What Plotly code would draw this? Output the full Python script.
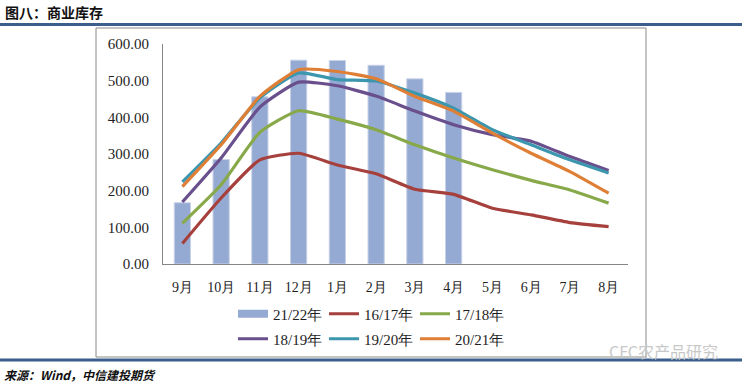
import plotly.graph_objects as go

months = ["9月", "10月", "11月", "12月", "1月", "2月", "3月", "4月", "5月", "6月", "7月", "8月"]

bar_name = "21/22年"
bar_values = [167, 285, 456, 556, 555, 542, 505, 468]

line_names = ["16/17年", "17/18年", "18/19年", "19/20年", "20/21年"]
s1617 = [56, 180, 284, 302, 270, 246, 204, 190, 152, 134, 113, 102]
s1718 = [111, 216, 359, 418, 395, 366, 325, 289, 257, 228, 202, 166]
s1819 = [169, 289, 428, 496, 486, 458, 417, 380, 353, 335, 293, 255]
s1920 = [224, 330, 453, 521, 503, 499, 466, 425, 366, 325, 284, 248]
s2021 = [211, 325, 457, 530, 525, 505, 457, 417, 357, 302, 252, 193]
line_values = [s1617, s1718, s1819, s1920, s2021]
line_colors = ["#A6403C", "#88A94A", "#6A4F8D", "#3B96AE", "#DF7E35"]
bar_color = "#95AAD2"

fig = go.Figure()
fig.add_trace(go.Bar(
    x=months[:len(bar_values)], y=bar_values, name=bar_name,
    marker=dict(color=bar_color, line=dict(color="#C9D3E8", width=1)),
    width=0.42, showlegend=False,
))
# legend entry for the bars (wide swatch, as in the original)
fig.add_trace(go.Scatter(
    x=[None], y=[None], name=bar_name, mode="lines",
    line=dict(color=bar_color, width=8), legend="legend", hoverinfo="skip",
))
for i, (nm, vals, col) in enumerate(zip(line_names, line_values, line_colors)):
    fig.add_trace(go.Scatter(
        x=months, y=vals, name=nm, mode="lines",
        line=dict(color=col, width=3.2, shape="spline", smoothing=0.5),
        legend="legend" if i < 2 else "legend2",
    ))

serif = "Liberation Serif"
W, H = 742, 384
L, R, T, B = 163, 628, 44, 264
pw, ph = R - L, B - T

def px(x):
    return (x - L) / pw

def py(y):
    return (B - y) / ph

legend_common = dict(
    orientation="h", xanchor="left", yanchor="middle",
    font=dict(family=serif, size=15, color="#1e1e1e"),
    entrywidth=46, itemwidth=30, tracegroupgap=0, bgcolor="rgba(0,0,0,0)",
)

fig.update_layout(
    width=W, height=H,
    margin=dict(l=L, r=W - R, t=T, b=H - B),
    paper_bgcolor="white", plot_bgcolor="white",
    barmode="overlay",
    xaxis=dict(
        categoryorder="array", categoryarray=months,
        range=[-0.5, 11.5], showline=True, linecolor="#868686", linewidth=1,
        showgrid=False, ticks="", tickfont=dict(family=serif, size=14, color="#1e1e1e"),
        ticklabelstandoff=10, fixedrange=True,
    ),
    yaxis=dict(
        range=[0, 600], tickvals=[0, 100, 200, 300, 400, 500, 600], tickformat=".2f",
        showline=True, linecolor="#868686", linewidth=1, showgrid=False, zeroline=False,
        ticks="", tickfont=dict(family=serif, size=15, color="#1e1e1e"),
        ticklabelstandoff=10, fixedrange=True,
    ),
    legend=dict(x=px(233), y=py(314), **legend_common),
    legend2=dict(x=px(233), y=py(339), **legend_common),
    showlegend=True,
)

# chart border box and header/footer rules
fig.add_shape(type="rect", xref="paper", yref="paper",
              x0=px(96), x1=px(646), y0=py(357), y1=py(28),
              line=dict(color="#8a8a8a", width=1), layer="below")
fig.add_shape(type="line", xref="paper", yref="paper",
              x0=px(0), x1=px(742), y0=py(24.5), y1=py(24.5),
              line=dict(color="#3B5E8C", width=3))
fig.add_shape(type="line", xref="paper", yref="paper",
              x0=px(0), x1=px(742), y0=py(360), y1=py(360),
              line=dict(color="#3B5E8C", width=3))

fig.add_annotation(text="<b>图八：商业库存</b>", xref="paper", yref="paper",
                   x=px(3), y=py(12), xanchor="left", yanchor="middle", showarrow=False,
                   font=dict(family="Noto Sans CJK SC", size=14, color="#111"))
fig.add_annotation(text="<b><i>来源：Wind，中信建投期货</i></b>", xref="paper", yref="paper",
                   x=px(2), y=py(375), xanchor="left", yanchor="middle", showarrow=False,
                   font=dict(family="Noto Sans CJK SC", size=12, color="#111"))
fig.add_annotation(text="CFC农产品研究", xref="paper", yref="paper",
                   x=px(720), y=py(351), xanchor="right", yanchor="middle", showarrow=False,
                   font=dict(family="Noto Sans CJK SC", size=16, color="#c8c8c8"))

fig.write_html("out.html", config={"displayModeBar": False},
               post_script="document.body.style.margin='0';document.body.style.overflow='hidden';")
